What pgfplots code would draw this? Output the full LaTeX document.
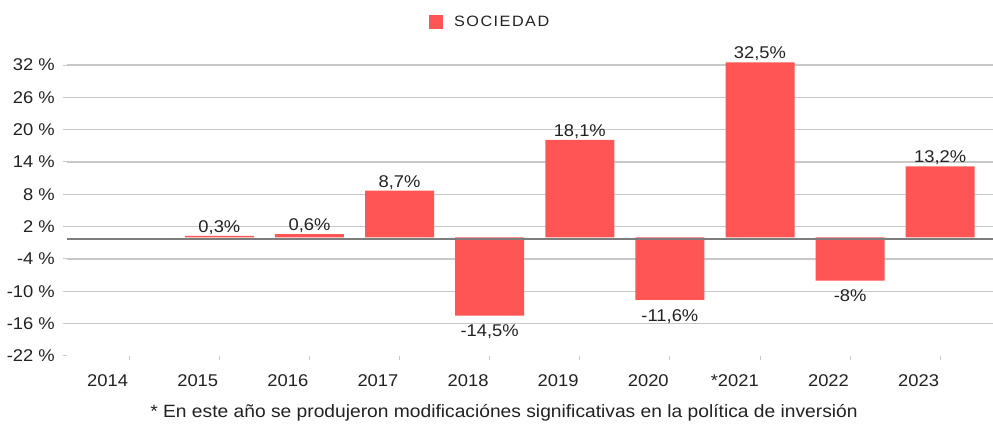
\documentclass[border=0pt]{standalone}
\usepackage{pgfplots}
\pgfplotsset{compat=1.18}
\usepackage{fontspec}
\setmainfont{Liberation Sans}[FakeStretch=1.08]
\definecolor{barred}{RGB}{255,85,85}
\definecolor{gridgray}{RGB}{200,200,200}
\definecolor{zerogray}{RGB}{125,125,125}
\definecolor{txt}{RGB}{34,34,34}
\begin{document}
\begin{tikzpicture}[x=1pt,y=1pt]
\useasboundingbox (0,0) rectangle (993,423);
\begin{axis}[
  at={(67pt,67pt)}, anchor=south west,
  scale only axis, width=926pt, height=291pt,
  xmin=-0.691, xmax=9.586, ymin=-22, ymax=32,
  axis line style={draw=none},
  clip=false,
  ybar, bar width=69pt,
  ytick={-16,-10,...,32},
  yticklabels={-16 \%,-10 \%,-4 \%,2 \%,8 \%,14 \%,20 \%,26 \%,32 \%},
  extra y ticks={-22}, extra y tick labels={-22 \%},
  extra y tick style={grid=none},
  ymajorgrids, grid style={gridgray, line width=1.3pt},
  xtick={0,...,9},
  xticklabels={2014,2015,2016,2017,2018,2019,2020,*2021,2022,2023},
  xtick pos=bottom, ytick pos=left,
  tick align=outside, major tick length=4pt,
  tick style={gridgray, line width=1pt},
  xticklabel style={anchor=north east, inner sep=0pt, yshift=-14pt, xshift=-1pt},
  yticklabel style={anchor=east, inner sep=0pt, xshift=-8pt},
  ticklabel style={font=\fontsize{17}{20}\selectfont, text=txt},
  nodes near coords,
  point meta=explicit symbolic,
  visualization depends on={y \as \rawy},
  nodes near coords style={font=\fontsize{17}{20}\selectfont, text=txt, inner sep=1pt,
     anchor=\ifdim\rawy pt<0pt north\else south\fi,
     yshift=\ifdim\rawy pt<0pt -8pt\else 0pt\fi},
  legend style={draw=none, at={(0.457,1.148)}, anchor=center,
    font=\fontsize{15}{18}\selectfont, text=txt},
  legend image code/.code={\fill[barred] (0pt,-7pt) rectangle (14pt,7pt);},
]
\addplot[fill=barred, draw=none] coordinates {
  (1,0.3) [0,3\%]
  (2,0.6) [0,6\%]
  (3,8.7) [8,7\%]
  (4,-14.5) [-14,5\%]
  (5,18.1) [18,1\%]
  (6,-11.6) [-11,6\%]
  (7,32.5) [32,5\%]
  (8,-8) [-8\%]
  (9,13.2) [13,2\%]
};
\addlegendentry{\hspace{9pt}\addfontfeatures{LetterSpace=10}SOCIEDAD}
\draw[zerogray, line width=1.6pt] (axis cs:-0.691,-0.3) -- (axis cs:9.586,-0.3);
\end{axis}
\node[font=\fontsize{17.8}{20}\selectfont, text=txt] at (504,10) {* En este año se produjeron modificaciónes significativas en la política de inversión};
\end{tikzpicture}
\end{document}
